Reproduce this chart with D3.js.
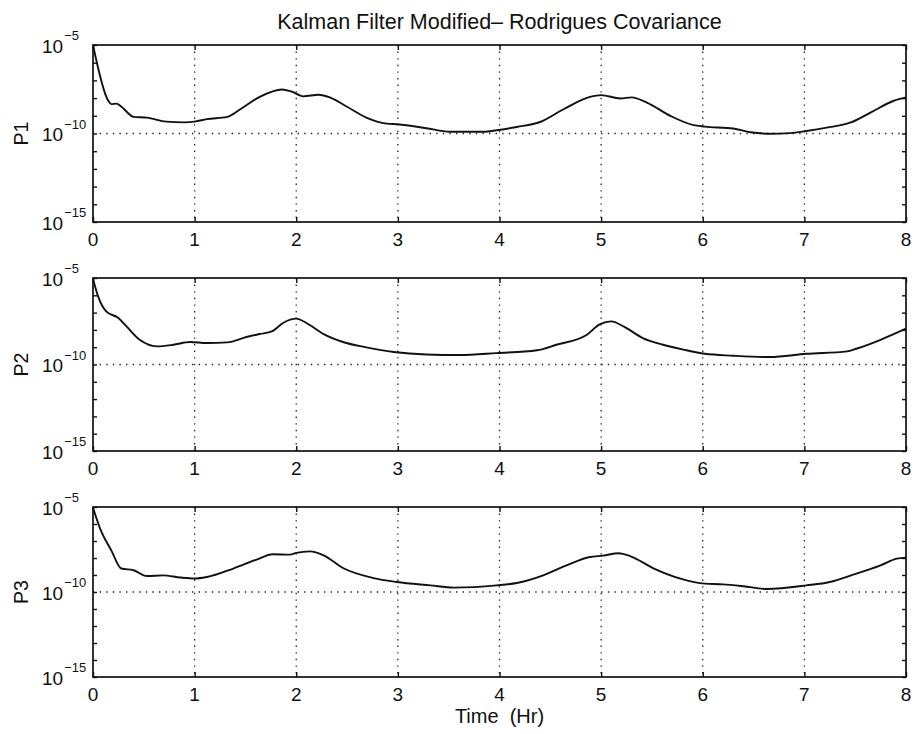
<!DOCTYPE html>
<html>
<head>
<meta charset="utf-8">
<script src="https://cdn.jsdelivr.net/npm/d3@7"></script>
<style>
  html, body { margin: 0; padding: 0; background: #fff; }
  svg text { font-family: "Liberation Sans", Arial, Helvetica, sans-serif; fill: #111; }
</style>
</head>
<body>
<svg id="chart" width="916" height="734"></svg>
<script>
// ---- data (time in hours, covariance as log10 exponent) ----
const title = "Kalman Filter Modified\u2013 Rodrigues Covariance";
const xLabel = "Time  (Hr)";
const panelNames = ["P1", "P2", "P3"];
const xTicks = [0, 1, 2, 3, 4, 5, 6, 7, 8];
const yTickExps = [-15, -14, -13, -12, -11, -10, -9, -8, -7, -6, -5];
const yLabelExps = [-15, -10, -5];

const timeP1 = [0, 0.15, 0.18, 0.23, 0.28, 0.40, 0.53, 0.72, 0.90, 1.0, 1.12, 1.32, 1.45, 1.64, 1.86, 1.95, 2.07, 2.22, 2.33, 2.50, 2.69, 2.89, 3.0, 3.28, 3.51, 3.84, 3.97, 4.17, 4.40, 4.63, 4.89, 5.0, 5.19, 5.30, 5.45, 5.68, 5.91, 6.02, 6.30, 6.47, 6.66, 6.86, 7.02, 7.22, 7.45, 7.65, 7.88, 8.0];
const expP1 = [-5.0, -8.15, -8.34, -8.31, -8.49, -9.06, -9.10, -9.33, -9.37, -9.33, -9.19, -9.06, -8.63, -7.93, -7.51, -7.62, -7.90, -7.81, -7.96, -8.49, -9.10, -9.44, -9.48, -9.70, -9.90, -9.90, -9.82, -9.63, -9.35, -8.63, -7.93, -7.83, -8.02, -7.96, -8.25, -9.00, -9.53, -9.61, -9.72, -9.93, -10.01, -9.98, -9.86, -9.67, -9.39, -8.82, -8.15, -7.96];

const timeP2 = [0, 0.05, 0.13, 0.25, 0.33, 0.46, 0.63, 0.79, 0.955, 1.12, 1.32, 1.51, 1.64, 1.76, 1.87, 2.0, 2.10, 2.27, 2.46, 2.69, 2.96, 3.28, 3.61, 3.97, 4.37, 4.56, 4.86, 4.99, 5.10, 5.22, 5.41, 5.61, 5.81, 6.02, 6.30, 6.66, 7.02, 7.42, 7.51, 7.75, 8.0];
const expP2 = [-5.06, -6.06, -6.93, -7.31, -7.80, -8.57, -8.95, -8.86, -8.70, -8.76, -8.72, -8.41, -8.24, -8.09, -7.60, -7.35, -7.60, -8.24, -8.70, -9.01, -9.28, -9.42, -9.45, -9.34, -9.18, -8.86, -8.28, -7.66, -7.51, -7.80, -8.47, -8.86, -9.14, -9.38, -9.49, -9.57, -9.38, -9.24, -9.09, -8.57, -7.93];

const timeP3 = [0, 0.07, 0.18, 0.28, 0.40, 0.53, 0.69, 0.86, 1.0, 1.12, 1.38, 1.61, 1.77, 1.94, 2.0, 2.135, 2.27, 2.46, 2.76, 2.99, 3.32, 3.55, 3.97, 4.17, 4.43, 4.66, 4.89, 5.02, 5.17, 5.29, 5.52, 5.78, 6.02, 6.20, 6.40, 6.63, 7.02, 7.25, 7.48, 7.75, 7.91, 8.0];
const expP3 = [-5.04, -6.27, -7.55, -8.62, -8.72, -9.06, -9.02, -9.15, -9.21, -9.12, -8.62, -8.09, -7.78, -7.80, -7.70, -7.61, -7.84, -8.59, -9.18, -9.41, -9.61, -9.74, -9.61, -9.47, -9.02, -8.43, -7.94, -7.86, -7.72, -7.90, -8.62, -9.21, -9.51, -9.55, -9.66, -9.82, -9.61, -9.41, -8.98, -8.43, -8.04, -7.98];

const times = [timeP1, timeP2, timeP3];
const exps = [expP1, expP2, expP3];

// ---- layout ----
const svg = d3.select("#chart");
const left = 93, right = 906;
const panels = [{top: 45, bottom: 222}, {top: 278, bottom: 451}, {top: 507, bottom: 677}];

const x = d3.scaleLinear().domain([0, 8]).range([left, right]);

svg.append("text")
    .attr("x", (left + right) / 2).attr("y", 29)
    .attr("text-anchor", "middle").attr("font-size", 21.5)
    .text(title);

panels.forEach((p, i) => {
    const y = d3.scaleLog().domain([1e-15, 1e-5]).range([p.bottom, p.top]);
    const g = svg.append("g");

    // dotted grid
    g.selectAll(".vgrid").data(xTicks.slice(1, -1)).enter().append("line")
        .attr("x1", d => x(d)).attr("x2", d => x(d))
        .attr("y1", p.top).attr("y2", p.bottom)
        .attr("stroke", "#222").attr("stroke-width", 1.3)
        .attr("stroke-dasharray", "1.4 5.2");
    g.append("line")
        .attr("x1", left).attr("x2", right)
        .attr("y1", y(1e-10)).attr("y2", y(1e-10))
        .attr("stroke", "#222").attr("stroke-width", 1.3)
        .attr("stroke-dasharray", "1.4 5.2");

    // inward ticks
    const tickStyle = s => s.call(a => a.select(".domain").remove())
        .selectAll("line").attr("stroke", "#111").attr("stroke-width", 1.4);
    g.append("g").attr("transform", `translate(0,${p.bottom})`)
        .call(d3.axisBottom(x).tickValues(xTicks).tickSize(-5).tickFormat(""))
        .call(tickStyle);
    g.append("g").attr("transform", `translate(0,${p.top})`)
        .call(d3.axisTop(x).tickValues(xTicks).tickSize(-5).tickFormat(""))
        .call(tickStyle);
    g.append("g").attr("transform", `translate(${left},0)`)
        .call(d3.axisLeft(y).tickValues(yTickExps.map(e => 10 ** e)).tickSize(-4).tickFormat(""))
        .call(tickStyle);
    g.append("g").attr("transform", `translate(${right},0)`)
        .call(d3.axisRight(y).tickValues(yTickExps.map(e => 10 ** e)).tickSize(-4).tickFormat(""))
        .call(tickStyle);

    // frame
    g.append("rect")
        .attr("x", left).attr("y", p.top)
        .attr("width", right - left).attr("height", p.bottom - p.top)
        .attr("fill", "none").attr("stroke", "#111").attr("stroke-width", 1.7);

    // x tick labels
    g.selectAll(".xlab").data(xTicks).enter().append("text")
        .attr("x", d => x(d)).attr("y", p.bottom + 24)
        .attr("text-anchor", "middle").attr("font-size", 19)
        .text(d => d);

    // y tick labels 10^e
    const yl = g.selectAll(".ylab").data(yLabelExps).enter().append("text")
        .attr("x", 42).attr("y", d => y(10 ** d) + 7.5)
        .attr("font-size", 19);
    yl.append("tspan").text("10");
    yl.append("tspan").attr("dy", -12.5).attr("dx", 1).attr("font-size", 13)
        .text(d => "\u2212" + Math.abs(d));

    // panel name
    g.append("text")
        .attr("transform", `translate(28,${y(1e-10)}) rotate(-90)`)
        .attr("text-anchor", "middle").attr("font-size", 19.5)
        .text(panelNames[i]);

    // curve
    const pts = times[i].map((t, k) => [t, 10 ** exps[i][k]]);
    g.append("path")
        .datum(pts)
        .attr("fill", "none").attr("stroke", "#111").attr("stroke-width", 1.9)
        .attr("stroke-linejoin", "round")
        .attr("d", d3.line().x(d => x(d[0])).y(d => y(d[1])).curve(d3.curveMonotoneX));
});

svg.append("text")
    .attr("x", (left + right) / 2).attr("y", 723)
    .attr("text-anchor", "middle").attr("font-size", 20)
    .style("white-space", "pre")
    .text(xLabel);
</script>
</body>
</html>
